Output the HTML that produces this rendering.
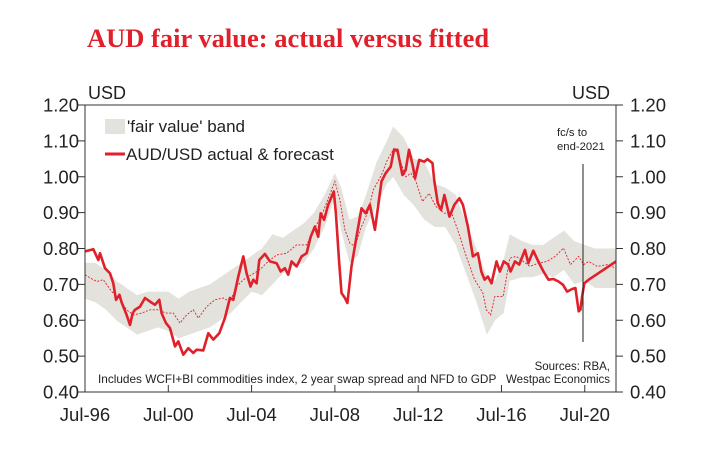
<!DOCTYPE html>
<html><head><meta charset="utf-8"><style>
body{margin:0;background:#fff;}
svg text{font-family:"Liberation Sans",Arial,sans-serif;}
</style></head><body>
<svg width="724" height="445" viewBox="0 0 724 445">
<text x="87" y="47" fill="#e0202a" font-size="26.5" font-weight="bold" style="font-family:'Liberation Serif',serif">AUD fair value: actual versus fitted</text>
<g id="plot"></g>
</svg>
<script>
const actYears=[1996.5,1996.9,1997.14,1997.22,1997.46,1997.7,1997.86,1997.99,1998.15,1998.26,1998.5,1998.66,1998.79,1998.9,1999.14,1999.38,1999.62,1999.86,2000.07,2000.18,2000.39,2000.58,2000.82,2000.98,2001.22,2001.46,2001.7,2001.86,2002.18,2002.42,2002.66,2002.95,2003.22,2003.46,2003.62,2003.86,2004.1,2004.26,2004.45,2004.58,2004.74,2004.87,2005.14,2005.38,2005.7,2005.9,2006.1,2006.26,2006.42,2006.66,2006.9,2007.14,2007.34,2007.54,2007.7,2007.82,2007.98,2008.18,2008.45,2008.55,2008.7,2008.82,2008.98,2009.1,2009.3,2009.54,2009.78,2009.98,2010.18,2010.42,2010.74,2010.94,2011.18,2011.34,2011.5,2011.74,2011.9,2012.06,2012.23,2012.35,2012.55,2012.79,2012.95,2013.19,2013.27,2013.44,2013.6,2013.76,2014.0,2014.24,2014.48,2014.65,2014.89,2015.13,2015.37,2015.53,2015.69,2015.85,2016.02,2016.26,2016.42,2016.61,2016.82,2016.94,2017.15,2017.35,2017.63,2017.79,2018.03,2018.27,2018.52,2018.76,2019.0,2019.24,2019.45,2019.65,2019.89,2020.05,2020.21,2020.29,2020.37,2020.48,2020.69,2022.0];
const actValues=[0.792,0.798,0.768,0.787,0.745,0.731,0.703,0.657,0.671,0.650,0.615,0.587,0.620,0.629,0.638,0.662,0.652,0.643,0.657,0.620,0.592,0.578,0.527,0.541,0.504,0.522,0.509,0.518,0.516,0.564,0.546,0.564,0.606,0.662,0.657,0.722,0.778,0.731,0.694,0.713,0.703,0.768,0.785,0.764,0.759,0.736,0.745,0.727,0.764,0.750,0.778,0.787,0.833,0.861,0.833,0.898,0.880,0.922,0.959,0.898,0.768,0.676,0.662,0.648,0.750,0.833,0.912,0.898,0.922,0.852,0.987,1.010,1.028,1.075,1.075,1.005,1.019,1.075,1.033,0.996,1.047,1.042,1.049,1.038,0.991,0.926,0.908,0.949,0.889,0.922,0.940,0.922,0.861,0.778,0.787,0.736,0.713,0.722,0.703,0.764,0.736,0.764,0.755,0.736,0.764,0.755,0.796,0.759,0.794,0.764,0.736,0.713,0.715,0.708,0.699,0.680,0.687,0.690,0.625,0.629,0.666,0.703,0.713,0.764];
const fitYears=[1996.5,1996.74,1997.06,1997.38,1997.78,1998.1,1998.5,1998.82,1999.22,1999.62,2000.1,2000.34,2000.74,2001.06,2001.38,2001.7,2001.94,2002.34,2002.74,2003.14,2003.46,2003.78,2004.1,2004.5,2004.9,2005.3,2005.7,2006.18,2006.66,2007.14,2007.46,2007.94,2008.34,2008.5,2008.74,2008.98,2009.22,2009.46,2009.78,2010.1,2010.34,2010.74,2011.02,2011.34,2011.58,2011.9,2012.15,2012.39,2012.71,2013.03,2013.35,2013.76,2014.08,2014.4,2014.81,2015.21,2015.61,2015.77,2015.98,2016.18,2016.58,2016.9,2017.21,2017.55,2017.87,2018.27,2018.68,2019.08,2019.48,2019.81,2020.21,2020.45,2020.69,2021.1,2021.58,2022.0];
const fitValues=[0.727,0.718,0.708,0.713,0.680,0.666,0.629,0.615,0.620,0.629,0.629,0.620,0.620,0.592,0.615,0.629,0.606,0.638,0.657,0.662,0.652,0.694,0.713,0.727,0.741,0.764,0.782,0.787,0.810,0.810,0.847,0.903,0.963,0.987,0.935,0.852,0.815,0.806,0.861,0.903,0.963,1.005,1.047,1.079,1.056,1.000,1.010,0.987,0.931,0.954,0.917,0.898,0.903,0.852,0.778,0.713,0.676,0.629,0.615,0.666,0.666,0.773,0.778,0.764,0.750,0.759,0.764,0.778,0.801,0.755,0.778,0.755,0.764,0.750,0.755,0.745];
const bandYears=[1996.5,1997.0,1997.5,1998.0,1998.5,1999.0,1999.5,2000.0,2000.5,2001.0,2001.5,2002.0,2002.5,2003.0,2003.5,2004.0,2004.5,2005.0,2005.5,2006.0,2006.5,2007.0,2007.5,2008.0,2008.5,2008.8,2009.2,2009.6,2010.0,2010.5,2011.0,2011.3,2011.8,2012.3,2012.8,2013.3,2013.8,2014.3,2014.8,2015.3,2015.8,2016.2,2016.6,2016.9,2017.5,2018.0,2018.5,2019.0,2019.5,2020.0,2020.5,2021.0,2022.0];
const bandLow=[0.66,0.65,0.63,0.60,0.58,0.56,0.57,0.58,0.57,0.55,0.56,0.57,0.58,0.60,0.62,0.65,0.68,0.67,0.70,0.73,0.75,0.76,0.80,0.86,0.94,0.85,0.76,0.78,0.86,0.92,0.98,1.00,0.95,0.92,0.88,0.86,0.86,0.81,0.73,0.65,0.56,0.60,0.62,0.71,0.72,0.72,0.73,0.72,0.74,0.70,0.71,0.69,0.69];
const bandHigh=[0.76,0.76,0.74,0.71,0.69,0.67,0.68,0.68,0.68,0.66,0.68,0.69,0.70,0.72,0.74,0.76,0.78,0.80,0.84,0.83,0.85,0.87,0.90,0.95,1.01,0.97,0.88,0.89,0.95,1.04,1.10,1.14,1.11,1.05,1.04,0.98,0.97,0.95,0.87,0.80,0.72,0.71,0.77,0.84,0.82,0.81,0.81,0.83,0.85,0.82,0.81,0.80,0.80];
const yTicks=[0.4,0.5,0.6,0.7,0.8,0.9,1.0,1.1,1.2];
const xTickYears=[1996.5,2000.5,2004.5,2008.5,2012.5,2016.5,2020.5];
const xTickLabels=["Jul-96","Jul-00","Jul-04","Jul-08","Jul-12","Jul-16","Jul-20"];

const L=85,R=616,T=105,B=392,Y0=1996.5,Y1=2022.0;
const xs=t=>L+(t-Y0)/(Y1-Y0)*(R-L);
const ys=v=>B-(v-0.4)/0.8*(B-T);
const NS="http://www.w3.org/2000/svg";
const g=document.getElementById('plot');
function mk(tag,attrs,parent){const e=document.createElementNS(NS,tag);for(const k in attrs)e.setAttribute(k,attrs[k]);(parent||g).appendChild(e);return e;}

let d='M'+bandYears.map((t,i)=>xs(t).toFixed(1)+','+ys(bandHigh[i]).toFixed(1)).join('L');
for(let i=bandYears.length-1;i>=0;i--)d+='L'+xs(bandYears[i]).toFixed(1)+','+ys(bandLow[i]).toFixed(1);
const band=mk('path',{d:d+'Z',fill:'#e4e2dc'});



const fit=mk('path',{d:'M'+fitYears.map((t,i)=>xs(t).toFixed(1)+','+ys(fitValues[i]).toFixed(1)).join('L'),fill:'none',stroke:'#e0202a','stroke-width':0.9,'stroke-dasharray':'2,1.5'});



const act=mk('path',{d:'M'+actYears.map((t,i)=>xs(t).toFixed(1)+','+ys(actValues[i]).toFixed(1)).join('L'),fill:'none',stroke:'#e0202a','stroke-width':2.6,'stroke-linejoin':'round'});



const fl=mk('line',{x1:583,x2:583,y1:164,y2:342,stroke:'#222','stroke-width':1});



const ax=mk('path',{d:`M${L},${T}H${R}M${L},${T}V${B}H${R}V${T}`,fill:'none',stroke:'#333','stroke-width':1});



yTicks.forEach(v=>{
  const y=ys(v);
  mk('line',{x1:L-7,x2:L,y1:y,y2:y,stroke:'#333'});
  mk('line',{x1:R,x2:R+7,y1:y,y2:y,stroke:'#333'});
  const t1=mk('text',{x:L-6,y:y+6.5,'text-anchor':'end','font-size':18.5,fill:'#222'});
  t1.textContent=v.toFixed(2);
  
  
  const t2=mk('text',{x:R+14,y:y+6.5,'font-size':18.5,fill:'#222'});
  t2.textContent=v.toFixed(2);
  
  
});
xTickYears.forEach((t,i)=>{
  const x=xs(t);
  mk('line',{x1:x,x2:x,y1:B,y2:B-7,stroke:'#333'});
  const tx=mk('text',{x:x,y:B+29,'text-anchor':'middle','font-size':18.5,fill:'#222'});
  tx.textContent=xTickLabels[i];
  
  
});
</script>
<svg width="724" height="445" style="position:absolute;left:0;top:0">
<text x="88" y="99" font-size="18" fill="#222">USD</text>
<text x="572" y="99" font-size="18" fill="#222">USD</text>
<rect x="105" y="119" width="20" height="15" fill="#e4e2dc"/>
<text x="127" y="132" font-size="17" fill="#222">'fair value' band</text>
<line x1="105" y1="154" x2="125" y2="154" stroke="#e0202a" stroke-width="3"/>
<text x="126" y="160" font-size="17" fill="#222">AUD/USD actual &amp; forecast</text>
<text x="557" y="136" font-size="11.3" fill="#222">fc/s to</text>
<text x="557" y="150" font-size="11.3" fill="#222">end-2021</text>
<text x="98" y="383" font-size="11.8" fill="#222">Includes WCFI+BI commodities index, 2 year swap spread and NFD to GDP</text>
<text x="610" y="370" font-size="11.5" fill="#222" text-anchor="end">Sources: RBA,</text>
<text x="610" y="383" font-size="11.5" fill="#222" text-anchor="end">Westpac Economics</text>
</svg>
</body></html>
